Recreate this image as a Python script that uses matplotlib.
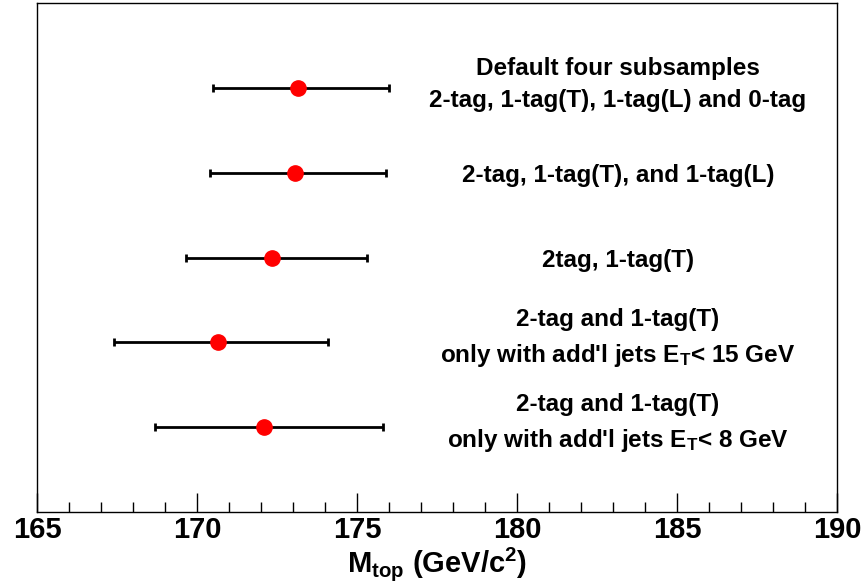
import numpy as np
import matplotlib
matplotlib.use('Agg')
import matplotlib.pyplot as plt
from matplotlib.ticker import MultipleLocator

plt.rcParams['font.family'] = ['Liberation Sans', 'DejaVu Sans']
plt.rcParams['font.weight'] = 'bold'
plt.rcParams['mathtext.fontset'] = 'custom'
plt.rcParams['mathtext.rm'] = 'Liberation Sans:bold'
plt.rcParams['mathtext.it'] = 'Liberation Sans:bold'
plt.rcParams['mathtext.bf'] = 'Liberation Sans:bold'

m_top = [173.15, 173.05, 172.35, 170.65, 172.1]
err_lo = [170.5, 170.4, 169.65, 167.4, 168.7]
err_hi = [176.0, 175.9, 175.3, 174.1, 175.8]
y_pos = [5, 4, 3, 2, 1]
labels = [
  'Default four subsamples\n2-tag, 1-tag(T), 1-tag(L) and 0-tag',
  '2-tag, 1-tag(T), and 1-tag(L)',
  '2tag, 1-tag(T)',
  "2-tag and 1-tag(T)\nonly with add'l jets E$_\\mathrm{T}$< 15 GeV",
  "2-tag and 1-tag(T)\nonly with add'l jets E$_\\mathrm{T}$< 8 GeV",
]

fig = plt.figure(figsize=(8.65, 5.85), dpi=100)
ax = fig.add_axes([0.0428, 0.1248, 0.9248, 0.870])

m = np.array(m_top)
xerr = [m - np.array(err_lo), np.array(err_hi) - m]
ax.errorbar(m_top, y_pos, xerr=xerr, fmt='o', color='red', ms=11,
            ecolor='black', elinewidth=2, capsize=3, capthick=2, zorder=3)

for y, lab in zip(y_pos, labels):
  dy = 0.04 if '\n' in lab else -0.03
  ax.text(183.15, y + dy, lab, ha='center', va='center', fontsize=17.5,
          fontweight='bold', linespacing=1.55)

ax.set_xlim(165, 190)
ax.set_ylim(0, 6)
ax.set_yticks([])
ax.xaxis.set_major_locator(MultipleLocator(5))
ax.xaxis.set_minor_locator(MultipleLocator(1))
ax.tick_params(axis='x', which='major', direction='in', length=14, width=1,
               labelsize=21, pad=3)
ax.tick_params(axis='x', which='minor', direction='in', length=7, width=1)
for lab in ax.get_xticklabels():
  lab.set_fontweight('bold')
ax.set_xlabel(r'M$_\mathrm{top}$ (GeV/c$^\mathrm{2}$)', fontsize=21,
              fontweight='bold', labelpad=0)
ax.xaxis.set_label_coords(0.5, -0.065)
for sp in ax.spines.values():
  sp.set_linewidth(1)

fig.savefig('out.png', dpi=100)
